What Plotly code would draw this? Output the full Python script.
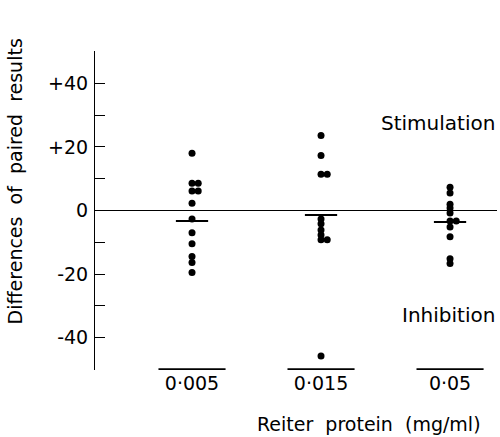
import plotly.graph_objects as go

# ---- data ----
categories = ["0·005", "0·015", "0·05"]
group_0005 = [18.0, 8.6, 8.6, 6.1, 6.1, 2.3, -2.7, -7.0, -10.5, -14.5, -16.4, -19.5]
group_0015 = [23.6, 17.3, 11.4, 11.4, -2.7, -4.2, -6.1, -7.7, -9.2, -9.2, -45.8]
group_005 = [7.3, 5.5, 2.0, 0.8, -0.8, -3.3, -3.3, -5.2, -8.3, -15.2, -16.7]
group_means = [-3.3, -1.4, -3.6]
y_tick_vals = [-40, -20, 0, 20, 40]
y_tick_text = ["-40", "-20", "0", "+20", "+40"]

groups = [group_0005, group_0015, group_005]
FONT = "DejaVu Sans"

fig = go.Figure()

# dots (identical values are shown side by side)
for i, vals in enumerate(groups):
    xs = []
    seen = {}
    for v in vals:
        k = seen.get(v, 0)
        xs.append(i + 0.048 * k)
        seen[v] = k + 1
    fig.add_trace(go.Scatter(
        x=xs, y=vals, mode="markers",
        marker=dict(color="black", size=7),
        showlegend=False, cliponaxis=False, hoverinfo="skip",
    ))

# mean bars
for i, m in enumerate(group_means):
    fig.add_shape(type="line", xref="x", yref="y",
                  x0=i - 0.125, x1=i + 0.125, y0=m, y1=m,
                  line=dict(color="black", width=2))

# baseline segments under each category
for i in range(len(categories)):
    fig.add_shape(type="line", xref="x", yref="y",
                  x0=i - 0.26, x1=i + 0.26, y0=-50, y1=-50,
                  line=dict(color="black", width=2))

fig.add_annotation(x=1, xref="paper", y=27.5, yref="y", text="Stimulation",
                   showarrow=False, xanchor="right", yanchor="middle",
                   font=dict(family=FONT, size=20, color="black"))
fig.add_annotation(x=1, xref="paper", y=-33, yref="y", text="Inhibition",
                   showarrow=False, xanchor="right", yanchor="middle",
                   font=dict(family=FONT, size=20, color="black"))

fig.add_annotation(x=-0.2, xref="paper", y=0.59, yref="paper",
                   text="Differences\u00a0 of\u00a0 paired\u00a0 results",
                   textangle=-90, showarrow=False,
                   xanchor="center", yanchor="middle",
                   font=dict(family=FONT, size=19, color="black"))
fig.add_annotation(x=0.965, xref="paper", y=-0.168, yref="paper",
                   text="Reiter\u00a0 protein\u00a0 (mg/ml)",
                   showarrow=False, xanchor="right", yanchor="middle",
                   font=dict(family=FONT, size=19, color="black"))

fig.update_layout(
    width=500, height=437,
    margin=dict(l=95, r=3, t=51, b=67),
    paper_bgcolor="white", plot_bgcolor="white",
    font=dict(family=FONT, color="black"),
    xaxis=dict(
        range=[-0.752, 2.364],
        tickvals=list(range(len(categories))), ticktext=categories,
        showline=False, showgrid=False, zeroline=False, ticks="",
        tickfont=dict(family=FONT, size=19, color="black"),
    ),
    yaxis=dict(
        range=[-50.2, 50.2],
        tickvals=y_tick_vals, ticktext=y_tick_text,
        showline=True, linecolor="black", linewidth=1,
        ticks="inside", ticklen=10, tickcolor="black", tickwidth=1,
        minor=dict(tickvals=[-50, -30, -10, 10, 30, 50], ticks="inside",
                   ticklen=10, tickcolor="black", tickwidth=1, showgrid=False),
        showgrid=False, zeroline=True, zerolinecolor="black", zerolinewidth=1.2,
        tickfont=dict(family=FONT, size=19, color="black"),
        ticklabelstandoff=2,
    ),
)

fig.write_html("out.html", config={"displayModeBar": False},
               post_script="document.body.style.margin='0';")
